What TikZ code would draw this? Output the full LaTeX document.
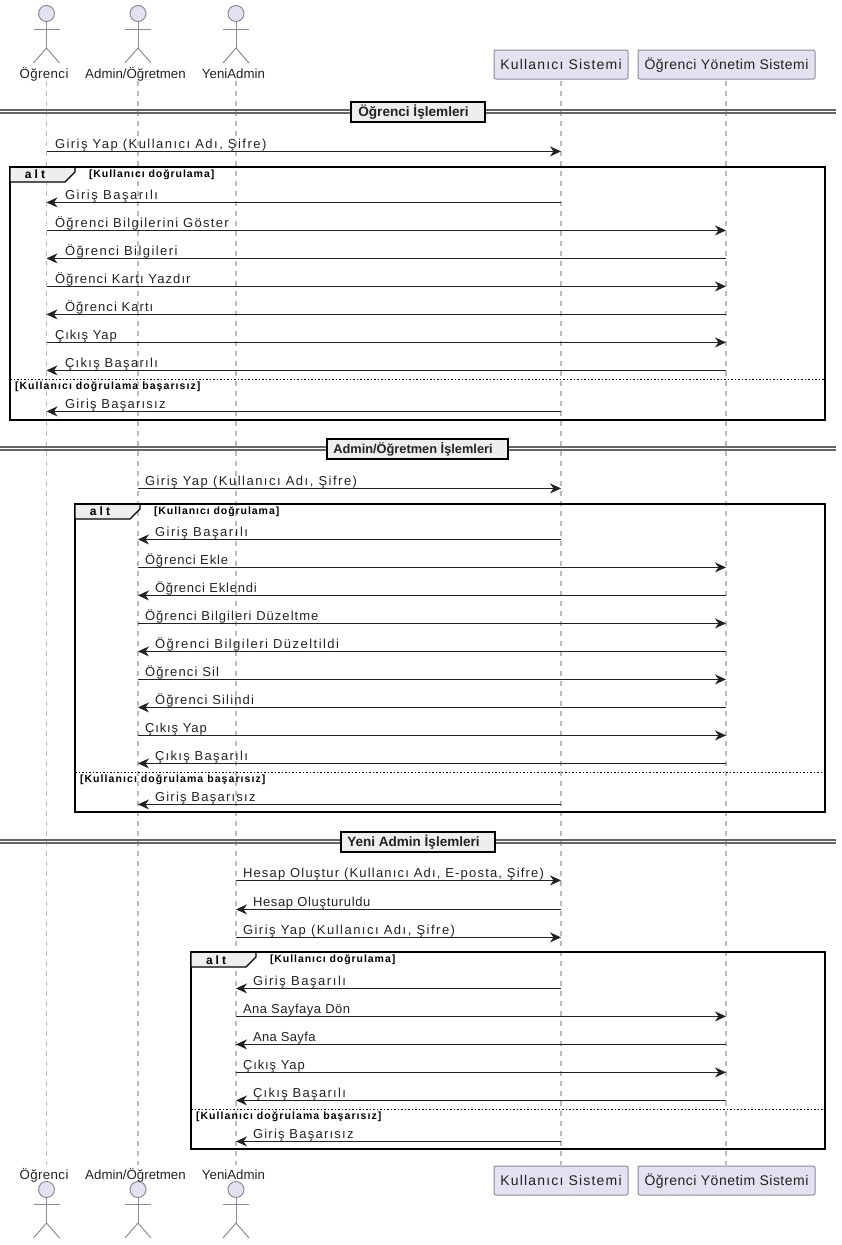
\documentclass[tikz,border=0pt]{standalone}
\usepackage{fontspec}
\setmainfont{Liberation Sans}
\newfontfamily\msgfont{Liberation Sans}
\newfontfamily\partafont[LetterSpace=8.5]{Liberation Sans}
\newfontfamily\partbfont[LetterSpace=3.5]{Liberation Sans}
\newfontfamily\condfont[LetterSpace=9]{Liberation Sans}
\newfontfamily\elsefont[LetterSpace=10.3]{Liberation Sans}
\newfontfamily\altfont[LetterSpace=25]{Liberation Sans}
\usetikzlibrary{arrows.meta}
\definecolor{partfill}{HTML}{E2E2F0}
\definecolor{partline}{HTML}{8C8C96}
\definecolor{lifeline}{HTML}{BBBBBB}
\definecolor{txt}{HTML}{222222}
\definecolor{tabfill}{HTML}{EEEEEE}
\definecolor{divcol}{HTML}{666666}
\tikzset{
  every node/.style={inner sep=0pt,outer sep=0pt,text=txt},
  lifel/.style={draw=lifeline,line width=1.2pt,dash pattern=on 5pt off 5pt},
  msg/.style={draw=txt,line width=1pt,-{Stealth[length=11pt,width=10pt,inset=3.5pt]}},
  msgtxt/.style={font=\msgfont\fontsize{13}{15}\selectfont,anchor=base west},
  acttxt/.style={font=\fontsize{13.3}{15}\selectfont,anchor=base},
  partbox/.style={draw=partline,fill=partfill,line width=1pt,rounded corners=2pt,
    minimum height=29pt,anchor=center,text height=12pt,text depth=3pt},
  parta/.style={partbox,minimum width=134pt,font=\partafont\fontsize{14}{16}\selectfont},
  partb/.style={partbox,minimum width=177pt,font=\partbfont\fontsize{14}{16}\selectfont},
  head/.style={circle,draw=partline,fill=partfill,line width=1pt,minimum size=16pt},
  limb/.style={draw=partline,line width=1pt},
  frm/.style={draw=black,line width=2pt},
  divl/.style={draw=divcol,line width=1.3pt},
  divbox/.style={draw=black,fill=tabfill,line width=2pt,minimum height=20pt,
    text height=13pt,text depth=3pt,anchor=center},
  tabshape/.style={draw=black,fill=tabfill,line width=1.2pt},
  alttxt/.style={font=\altfont\bfseries\fontsize{12}{14}\selectfont,anchor=center,text=black},
  condtxt/.style={font=\condfont\bfseries\fontsize{10.5}{12}\selectfont,anchor=west,text=black},
  elsetxt/.style={font=\elsefont\bfseries\fontsize{10.5}{12}\selectfont,anchor=west,text=black},
  elsel/.style={draw=black,line width=1pt,dash pattern=on 1.5pt off 2pt},
}
\newcommand{\actor}[3]{% name x label
  \node[head] (#1h) at (#2,13.5) {};
  \node[head] (#1hb) at (#2,1189.5) {};
  \coordinate (#1w) at (#2,48);
  \coordinate (#1wb) at (#2,1223);
  \draw[limb] (#1h) -- (#1w);
  \draw[limb] (#2-13,29) -- (#2+13,29);
  \draw[limb] (#2-13,63) -- (#1w) -- (#2+13,63);
  \draw[limb] (#1hb) -- (#1wb);
  \draw[limb] (#2-13,1204) -- (#2+13,1204);
  \draw[limb] (#2-13,1238) -- (#1wb) -- (#2+13,1238);
  \node[acttxt] (#1l) at (#2-2.5,78) {#3};
  \node[acttxt] (#1lb) at (#2-2.5,1179) {#3};
  \coordinate (#1t) at (#2,81);
  \coordinate (#1b) at (#2,1165);
}
\def\offo{8.5}\def\offa{7}\def\offn{7}
% [letter spacing] from to y text
\newcommand{\msgr}[5][10.5]{%
  \draw[msg,yshift=.6pt] (#2t|-0,#4) -- (#3t|-0,#4);
  \path (#2t|-0,#4) ++(\csname off#2\endcsname,-4) node[msgtxt] (ml#4) {\addfontfeature{LetterSpace=#1}#5};
}
\newcommand{\msgl}[5][10.5]{%
  \draw[msg,yshift=.6pt] (#2t|-0,#4) -- (#3t|-0,#4);
  \path (#3t|-0,#4) ++(\csname off#3\endcsname+10,-4) node[msgtxt] (ml#4) {\addfontfeature{LetterSpace=#1}#5};
}
% id y cx width size text
\newcommand{\divider}[6]{%
  \coordinate (dl#1) at (0,#2); \coordinate (dr#1) at (836,#2);
  \draw[divl] ([yshift=-1.5pt]dl#1) -- ([yshift=-1.5pt]dr#1);
  \draw[divl] ([yshift=1.5pt]dl#1) -- ([yshift=1.5pt]dr#1);
  \node[divbox,minimum width=#4pt,font=\bfseries\fontsize{#5}{15}\selectfont] (dv#1) at (#3,#2) {#6\kern9pt};
}
\newcommand{\altframe}[4]{% left top bottom elsey
  \draw[frm] (#1,#2) rectangle (825,#3);
  \draw[tabshape] (#1,#2) -- (#1+65,#2) -- (#1+65,#2+5) -- (#1+55,#2+15) -- (#1,#2+15) -- cycle;
  \draw[frm] (#1,#2) -- (825,#2);
  \node[alttxt] (alt#2) at (#1+25,#2+7.7) {alt};
  \node[condtxt] (cond#2) at (#1+79,#2+8) {[Kullanıcı doğrulama]};
  \draw[elsel] (#1,#4) -- (825,#4);
  \node[elsetxt] (els#2) at (#1+5,#4+7.5) {[Kullanıcı doğrulama başarısız]};
}
\begin{document}
\begin{tikzpicture}[x=1pt,y=-1pt]
\useasboundingbox (0,0) rectangle (842,1245);
% lifelines and participants
\coordinate (st) at (561,81); \coordinate (sb) at (561,1165);
\coordinate (yt) at (726,81); \coordinate (yb) at (726,1165);
\actor{o}{46.5}{{\addfontfeature{LetterSpace=3}Öğrenci}}
\actor{a}{138}{Admin/Öğretmen}
\actor{n}{236}{YeniAdmin}
\foreach \p in {o,a,n,s,y} \draw[lifel] (\p t) -- (\p b);
\node[parta] (sbox) at (561,64.5) {Kullanıcı Sistemi};
\node[partb] (ybox) at (726.5,64.5) {Öğrenci Yönetim Sistemi};
\node[parta] (sboxb) at (561,1180.5) {Kullanıcı Sistemi};
\node[partb] (yboxb) at (726.5,1180.5) {Öğrenci Yönetim Sistemi};
% section 1
\altframe{10}{167}{420}{379}
\divider{A}{111.5}{418}{134}{13.6}{Öğrenci İşlemleri}
\msgr[11.3]{o}{s}{152}{Giriş Yap (Kullanıcı Adı, Şifre)}
\msgl[12]{s}{o}{203}{Giriş Başarılı}
\msgr[10]{o}{y}{231}{Öğrenci Bilgilerini Göster}
\msgl[11]{y}{o}{259}{Öğrenci Bilgileri}
\msgr[8.5]{o}{y}{287}{Öğrenci Kartı Yazdır}
\msgl[8.2]{y}{o}{315}{Öğrenci Kartı}
\msgr[7]{o}{y}{343}{Çıkış Yap}
\msgl[10]{y}{o}{371}{Çıkış Başarılı}
\msgl[9.5]{s}{o}{412}{Giriş Başarısız}
% section 2
\altframe{75}{504}{812}{772}
\divider{B}{448.5}{417.5}{181}{12.8}{Admin/Öğretmen İşlemleri}
\msgr[11.5]{a}{s}{489}{Giriş Yap (Kullanıcı Adı, Şifre)}
\msgl[12]{s}{a}{540}{Giriş Başarılı}
\msgr[6.7]{a}{y}{568}{Öğrenci Ekle}
\msgl[5.9]{y}{a}{596}{Öğrenci Eklendi}
\msgr[8]{a}{y}{624}{Öğrenci Bilgileri Düzeltme}
\msgl[11.3]{y}{a}{652}{Öğrenci Bilgileri Düzeltildi}
\msgr[9]{a}{y}{680}{Öğrenci Sil}
\msgl[9]{y}{a}{708}{Öğrenci Silindi}
\msgr[7]{a}{y}{736}{Çıkış Yap}
\msgl[10]{y}{a}{764}{Çıkış Başarılı}
\msgl[9.5]{s}{a}{805}{Giriş Başarısız}
% section 3
\altframe{191}{952}{1149}{1109}
\divider{C}{841.5}{418}{154}{13.5}{Yeni Admin İşlemleri}
\msgr[9.2]{n}{s}{881}{Hesap Oluştur (Kullanıcı Adı, E-posta, Şifre)}
\msgl[5]{s}{n}{910}{Hesap Oluşturuldu}
\msgr[11.5]{n}{s}{938}{Giriş Yap (Kullanıcı Adı, Şifre)}
\msgl[12]{s}{n}{989}{Giriş Başarılı}
\msgr[3.8]{n}{y}{1017}{Ana Sayfaya Dön}
\msgl[2.8]{y}{n}{1045}{Ana Sayfa}
\msgr[7]{n}{y}{1073}{Çıkış Yap}
\msgl[10]{y}{n}{1101}{Çıkış Başarılı}
\msgl[9.5]{s}{n}{1142}{Giriş Başarısız}
\end{tikzpicture}
\end{document}
